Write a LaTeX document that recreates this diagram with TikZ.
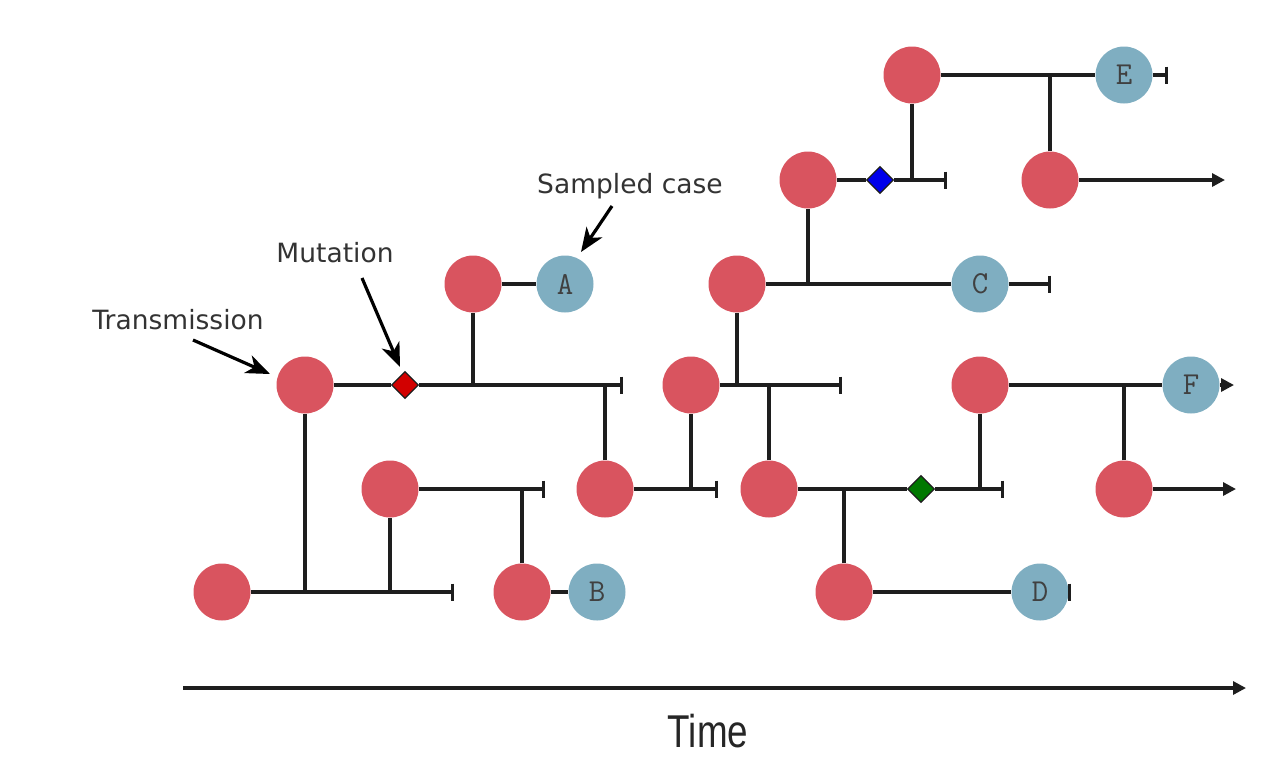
\documentclass[tikz,border=0pt]{standalone}
\usepackage{fontspec}
\newfontfamily\annfont{DejaVu Sans}
\newfontfamily\timefont{Liberation Sans}
\usetikzlibrary{arrows.meta,shapes.geometric}
\definecolor{redc}{RGB}{217,84,95}
\definecolor{bluec}{RGB}{127,174,193}
\definecolor{mutred}{RGB}{210,0,0}
\definecolor{mutblue}{RGB}{0,0,235}
\definecolor{mutgreen}{RGB}{0,120,0}
\definecolor{linec}{RGB}{30,30,30}
\tikzset{
  host/.style={circle, fill=redc, minimum size=57pt, inner sep=0pt},
  samp/.style={circle, fill=bluec, minimum size=57pt, inner sep=0pt, text=black!75,
    font=\ttfamily\fontsize{32}{32}\selectfont},
  mut/.style={diamond, draw=linec, line width=1.2pt, fill=#1, minimum size=27pt, inner sep=0pt},
  br/.style={draw=linec, line width=3.2pt},
  barend/.style={br, -{Bar[width=17pt]}},
  arrend/.style={br, -{Triangle[length=13pt,width=13pt]}},
  annarrow/.style={draw=black, line width=3.2pt, -{Stealth[length=24pt,width=19pt,inset=7pt]}},
  ann/.style={font=\annfont\fontsize{26.5}{26.5}\selectfont, text=black!80, inner sep=0pt}
}
\begin{document}
\begin{tikzpicture}[x=1pt,y=-1pt]
\useasboundingbox (0,0) rectangle (1282,772);
% hosts
\node[host] (R1) at (222,592) {};
\node[host] (R2) at (305,385) {};
\node[host] (R3) at (390,489) {};
\node[host] (R4) at (473,284) {};
\node[host] (R5) at (522,592) {};
\node[host] (R6) at (605,489) {};
\node[host] (R7) at (691,385) {};
\node[host] (R8) at (737,284) {};
\node[host] (R9) at (769,489) {};
\node[host] (R10) at (808,180) {};
\node[host] (R11) at (844,592) {};
\node[host] (R12) at (912,75) {};
\node[host] (R13) at (980,385) {};
\node[host] (R14) at (1050,180) {};
\node[host] (R15) at (1124,489) {};
% sampled
\node[samp] (A) at (565,284) {A};
\node[samp] (B) at (597,592) {B};
\node[samp] (C) at (980,284) {C};
\node[samp] (D) at (1040,592) {D};
\node[samp] (E) at (1124,75) {E};
\node[samp] (F) at (1191,385) {F};
% mutations
\node[mut=mutred] (M1) at (405,385) {};
\node[mut=mutblue] (M2) at (880,180) {};
\node[mut=mutgreen] (M3) at (921,489) {};
% free ends
\coordinate (e1) at (454,592);
\coordinate (e2) at (623,385);
\coordinate (e3) at (545,489);
\coordinate (e6) at (718,489);
\coordinate (e7) at (842,385);
\coordinate (e8) at (1051,284);
\coordinate (e9) at (1004,489);
\coordinate (e10) at (947,180);
\coordinate (e11) at (1071,592);
\coordinate (e12) at (1168,75);
\coordinate (e13) at (1234,385);
\coordinate (e14) at (1225,180);
\coordinate (e15) at (1236,489);
% horizontal branches
\draw[barend] (R1) -- (e1);
\draw[br] (R2) -- (M1);
\draw[barend] (M1) -- (e2);
\draw[barend] (R3) -- (e3);
\draw[br] (R4) -- (A);
\draw[br] (R5) -- (B);
\draw[barend] (R6) -- (e6);
\draw[barend] (R7) -- (e7);
\draw[br] (R8) -- (C);
\draw[barend] (C) -- (e8);
\draw[br] (R9) -- (M3);
\draw[barend] (M3) -- (e9);
\draw[br] (R10) -- (M2);
\draw[barend] (M2) -- (e10);
\draw[br] (R11) -- (D);
\draw[barend] (D) -- (e11);
\draw[br] (R12) -- (E);
\draw[barend] (E) -- (e12);
\draw[br] (R13) -- (F);
\draw[arrend] (F) -- (e13);
\draw[arrend] (R14) -- (e14);
\draw[arrend] (R15) -- (e15);
% vertical transmissions
\draw[br] (R2) -- (R2 |- R1);
\draw[br] (R3) -- (R3 |- R1);
\draw[br] (R4) -- (R4 |- R2);
\draw[br] (R6) -- (R6 |- R2);
\draw[br] (R5) -- (R5 |- R3);
\draw[br] (R7) -- (R7 |- R6);
\draw[br] (R8) -- (R8 |- R7);
\draw[br] (R9) -- (R9 |- R7);
\draw[br] (R10) -- (R10 |- R8);
\draw[br] (R11) -- (R11 |- R9);
\draw[br] (R13) -- (R13 |- R9);
\draw[br] (R12) -- (R12 |- R10);
\draw[br] (R14) -- (R14 |- R12);
\draw[br] (R15) -- (R15 |- R13);
% annotations
\node[ann] (tT) at (178,320) {Transmission};
\node[ann] (tM) at (335,253) {Mutation};
\node[ann] (tS) at (630,186) {Sampled case};
\coordinate (aT0) at (193,340);
\coordinate (aT1) at (270,374);
\coordinate (aM0) at (362,278);
\coordinate (aM1) at (400,367);
\coordinate (aS0) at (612,206);
\coordinate (aS1) at (581,252);
\draw[annarrow] (aT0) -- (aT1);
\draw[annarrow] (aM0) -- (aM1);
\draw[annarrow] (aS0) -- (aS1);
% time axis
\coordinate (t0) at (183,688);
\coordinate (t1) at (1246,688);
\draw[draw=linec, line width=3.2pt, -{Triangle[length=13pt,width=13pt]}] (t0) -- (t1);
\node[inner sep=0pt, text=black!85] (time) at (708,731) {\timefont\fontsize{46}{46}\selectfont\scalebox{0.8}[1]{Time}};
\end{tikzpicture}
\end{document}
